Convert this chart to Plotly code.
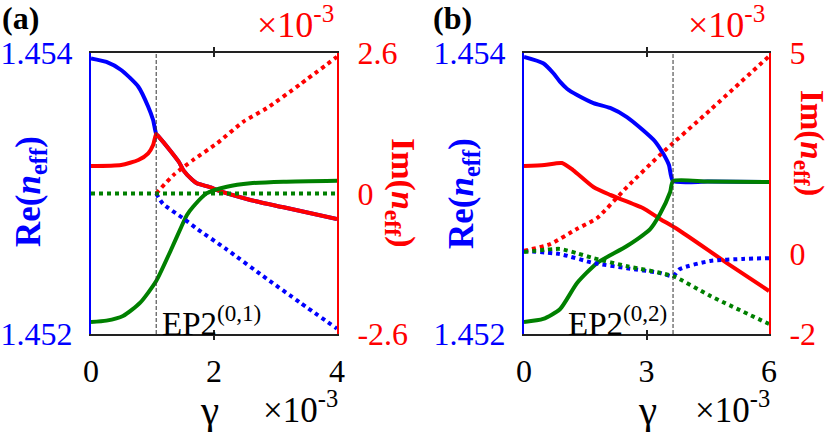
import plotly.graph_objects as go

# ---------------- data : panel (a) ----------------
ep_a = 1.06
a_blue_re_g = [0, 0.25, 0.49, 0.77, 0.93, 1.01, 1.06, 1.10, 1.28, 1.43, 1.50, 1.65, 1.72, 1.95, 2.04, 2.59, 3.13, 4.0]
a_blue_re = [1.453962, 1.453936, 1.453879, 1.453760, 1.453618, 1.453523, 1.453424, 1.453405, 1.453310, 1.453224,
             1.453167, 1.453096, 1.453073, 1.453043, 1.453025, 1.452954, 1.452902, 1.452819]
a_red_re_g = [0, 0.49, 0.77, 0.93, 1.01, 1.06, 1.10, 1.28, 1.43, 1.50, 1.65, 1.72, 1.95, 2.04, 2.59, 3.13, 4.0]
a_red_re = [1.453196, 1.453203, 1.453238, 1.453286, 1.453345, 1.453424, 1.453405, 1.453310, 1.453224,
            1.453167, 1.453096, 1.453073, 1.453043, 1.453025, 1.452954, 1.452902, 1.452819]
a_green_re_g = [0, 0.25, 0.52, 0.80, 1.06, 1.30, 1.475, 1.56, 1.66, 1.88, 2.21, 2.59, 3.13, 4.0]
a_green_re = [1.452085, 1.452095, 1.452128, 1.452223, 1.452377, 1.452598, 1.452769, 1.452847, 1.452906, 1.453001,
              1.453048, 1.453073, 1.453084, 1.453091]
a_red_im_g = [1.06, 1.34, 1.66, 2.05, 2.48, 2.86, 3.40, 4.0]
a_red_im = [0.0, 0.34, 0.62, 0.93, 1.33, 1.58, 2.02, 2.53]
a_blue_im_g = [1.06, 1.17, 1.50, 1.72, 2.20, 2.86, 3.40, 4.0]
a_blue_im = [0.0, -0.19, -0.46, -0.65, -1.03, -1.58, -2.02, -2.50]
a_green_im_g = [0, 4.0]
a_green_im = [0.0, 0.0]

# ---------------- data : panel (b) ----------------
ep_b = 3.65
b_blue_re_g = [0, 0.47, 0.72, 0.88, 1.06, 1.30, 1.70, 2.11, 2.52, 2.91, 3.20, 3.40, 3.55, 3.65, 4.5, 6.0]
b_blue_re = [1.453972, 1.453927, 1.453856, 1.453796, 1.453744, 1.453701, 1.453644, 1.453609, 1.453544,
             1.453452, 1.453374, 1.453288, 1.453203, 1.453089, 1.453085, 1.453082]
b_green_re_g = [0, 0.47, 0.88, 1.30, 1.79, 2.52, 3.09, 3.33, 3.58, 3.65, 4.5, 6.0]
b_green_re = [1.452085, 1.452107, 1.452176, 1.452363, 1.452505, 1.452626, 1.452747, 1.452854, 1.453011,
              1.453089, 1.453085, 1.453082]
b_red_re_g = [0, 0.5, 0.93, 1.2, 1.70, 2.11, 2.91, 3.33, 3.75, 4.97, 6.0]
b_red_re = [1.453196, 1.453203, 1.453217, 1.453167, 1.453046, 1.452990, 1.452897, 1.452819, 1.452747,
            1.452505, 1.452306]
b_red_im_g = [0, 0.64, 1.30, 1.79, 2.52, 3.33, 4.56, 6.0]
b_red_im = [0.07, 0.24, 0.62, 0.89, 1.66, 2.46, 3.58, 4.92]
b_green_im_g = [0, 0.88, 1.30, 1.70, 2.52, 3.65, 4.56, 6.0]
b_green_im = [0.04, 0.12, 0.01, -0.11, -0.31, -0.56, -1.05, -1.75]
b_blue_im_g = [0, 0.88, 1.70, 2.52, 3.33, 3.65, 3.82, 4.56, 5.36, 6.0]
b_blue_im = [0.07, -0.01, -0.23, -0.36, -0.48, -0.56, -0.38, -0.18, -0.13, -0.11]

# axis ticks
a_xticks = [0, 2, 4]
b_xticks = [0, 3, 6]
re_ticks = [1.452, 1.454]
re_ticktext = ["1.452", "1.454"]
a_im_ticks = [-2.6, 0, 2.6]
a_im_ticktext = ["-2.6", "0", "2.6"]
b_im_ticks = [-2, 0, 5]
b_im_ticktext = ["-2", "0", "5"]

BLUE = "#0000FF"
RED = "#FF0000"
GREEN = "#008000"
FONT = "Liberation Serif, Times New Roman, serif"
W, H = 830, 432


def X(p):
    return p / W


def Y(p):
    return 1 - p / H


fig = go.Figure()


def solid(x, y, color, xa, ya):
    fig.add_trace(go.Scatter(x=x, y=y, mode="lines", line=dict(color=color, width=4, shape="spline", smoothing=0.6),
                             xaxis=xa, yaxis=ya, showlegend=False, hoverinfo="skip"))


def dotted(x, y, color, xa, ya):
    fig.add_trace(go.Scatter(x=x, y=y, mode="lines",
                             line=dict(color=color, width=4, dash="4px,4px", shape="spline", smoothing=0.6),
                             xaxis=xa, yaxis=ya, showlegend=False, hoverinfo="skip"))


# panel (a)
solid(a_blue_re_g, a_blue_re, BLUE, "x", "y")
solid(a_red_re_g, a_red_re, RED, "x", "y")
solid(a_green_re_g, a_green_re, GREEN, "x", "y")
dotted(a_blue_im_g, a_blue_im, BLUE, "x", "y2")
dotted(a_red_im_g, a_red_im, RED, "x", "y2")
dotted(a_green_im_g, a_green_im, GREEN, "x", "y2")

# panel (b)
solid(b_blue_re_g, b_blue_re, BLUE, "x2", "y3")
solid(b_red_re_g, b_red_re, RED, "x2", "y3")
solid(b_green_re_g, b_green_re, GREEN, "x2", "y3")
dotted(b_blue_im_g, b_blue_im, BLUE, "x2", "y4")
dotted(b_red_im_g, b_red_im, RED, "x2", "y4")
dotted(b_green_im_g, b_green_im, GREEN, "x2", "y4")

ydom = [Y(334), Y(53)]
xdom_a = [X(91), X(337)]
xdom_b = [X(524), X(769)]

tickfont = dict(family=FONT, size=32, color="black")


def xaxis(dom, rng, ticks, anchor):
    return dict(domain=dom, range=rng, tickvals=ticks, ticktext=[str(t) for t in ticks],
                showline=True, linecolor="#222", linewidth=1.5, mirror="allticks",
                ticks="inside", ticklen=4, tickcolor="#222", tickwidth=1.5,
                showgrid=False, zeroline=False, anchor=anchor, tickfont=tickfont,
                ticklabelstandoff=8, automargin=False)


def left_y(anchor):
    return dict(domain=ydom, range=[1.452, 1.454], tickvals=re_ticks, ticktext=re_ticktext,
                showline=True, linecolor=BLUE, linewidth=2, ticks="", showgrid=False, zeroline=False,
                anchor=anchor, tickfont=dict(family=FONT, size=32, color=BLUE), ticklabelstandoff=10,
                automargin=False)


def right_y(anchor, over, rng, tv, tt):
    return dict(domain=ydom, range=rng, tickvals=tv, ticktext=tt, overlaying=over, side="right",
                showline=True, linecolor=RED, linewidth=2, ticks="", showgrid=False, zeroline=False,
                anchor=anchor, tickfont=dict(family=FONT, size=32, color=RED), ticklabelstandoff=12,
                automargin=False)


fig.update_layout(
    template="none",
    width=W, height=H, margin=dict(l=0, r=0, t=0, b=0, pad=0, autoexpand=False),
    paper_bgcolor="white", plot_bgcolor="white", showlegend=False,
    xaxis=xaxis(xdom_a, [0, 4], a_xticks, "y"),
    xaxis2=xaxis(xdom_b, [0, 6], b_xticks, "y3"),
    yaxis=left_y("x"),
    yaxis2=right_y("x", "y", [-2.6, 2.6], a_im_ticks, a_im_ticktext),
    yaxis3=left_y("x2"),
    yaxis4=right_y("x2", "y3", [-2, 5], b_im_ticks, b_im_ticktext),
)

# EP dashed lines
for xr, yr, ep in [("x", "y", ep_a), ("x2", "y3", ep_b)]:
    fig.add_shape(type="line", xref=xr, yref=yr + " domain", x0=ep, x1=ep, y0=0, y1=1,
                  line=dict(color="#333", width=1, dash="4px,2px"))

ann = []


def text(x, y, s, size, color="black", xanchor="center", yanchor="middle", angle=0):
    ann.append(dict(x=X(x), y=Y(y), xref="paper", yref="paper", text=s, showarrow=False,
                    xanchor=xanchor, yanchor=yanchor, textangle=angle,
                    font=dict(family=FONT, size=size, color=color)))


# panel labels
text(0, 18, "<b>(a)</b>", 32, xanchor="left")
text(431, 18, "<b>(b)</b>", 32, xanchor="left")
# exponent labels
text(255, 22, "×10<sup>-3</sup>", 36, RED, xanchor="left")
text(686, 22, "×10<sup>-3</sup>", 36, RED, xanchor="left")
text(261, 432, "×10<sup>-3</sup>", 35, xanchor="left", yanchor="bottom")
text(693, 432, "×10<sup>-3</sup>", 35, xanchor="left", yanchor="bottom")
# gamma
text(210, 410, "γ", 41)
text(647, 410, "γ", 41)
# y titles
text(30, 192, "<b>Re(<i>n</i><sub>eff</sub>)</b>", 35, BLUE, angle=-90)
text(463, 194, "<b>Re(<i>n</i><sub>eff</sub>)</b>", 35, BLUE, angle=-90)
text(401, 193, "<b>Im(<i>n</i><sub>eff</sub>)</b>", 34, RED, angle=90)
text(810, 143, "<b>Im(<i>n</i><sub>eff</sub>)</b>", 33, RED, angle=90)
# EP labels
text(160, 344, "EP2<sup>(0,1)</sup>", 33, xanchor="left", yanchor="bottom")
text(669, 344, "EP2<sup>(0,2)</sup>", 33, xanchor="right", yanchor="bottom")

fig.update_layout(annotations=ann)
fig.write_html("out.html", config={"displayModeBar": False},
               post_script="document.body.style.margin='0px';")
